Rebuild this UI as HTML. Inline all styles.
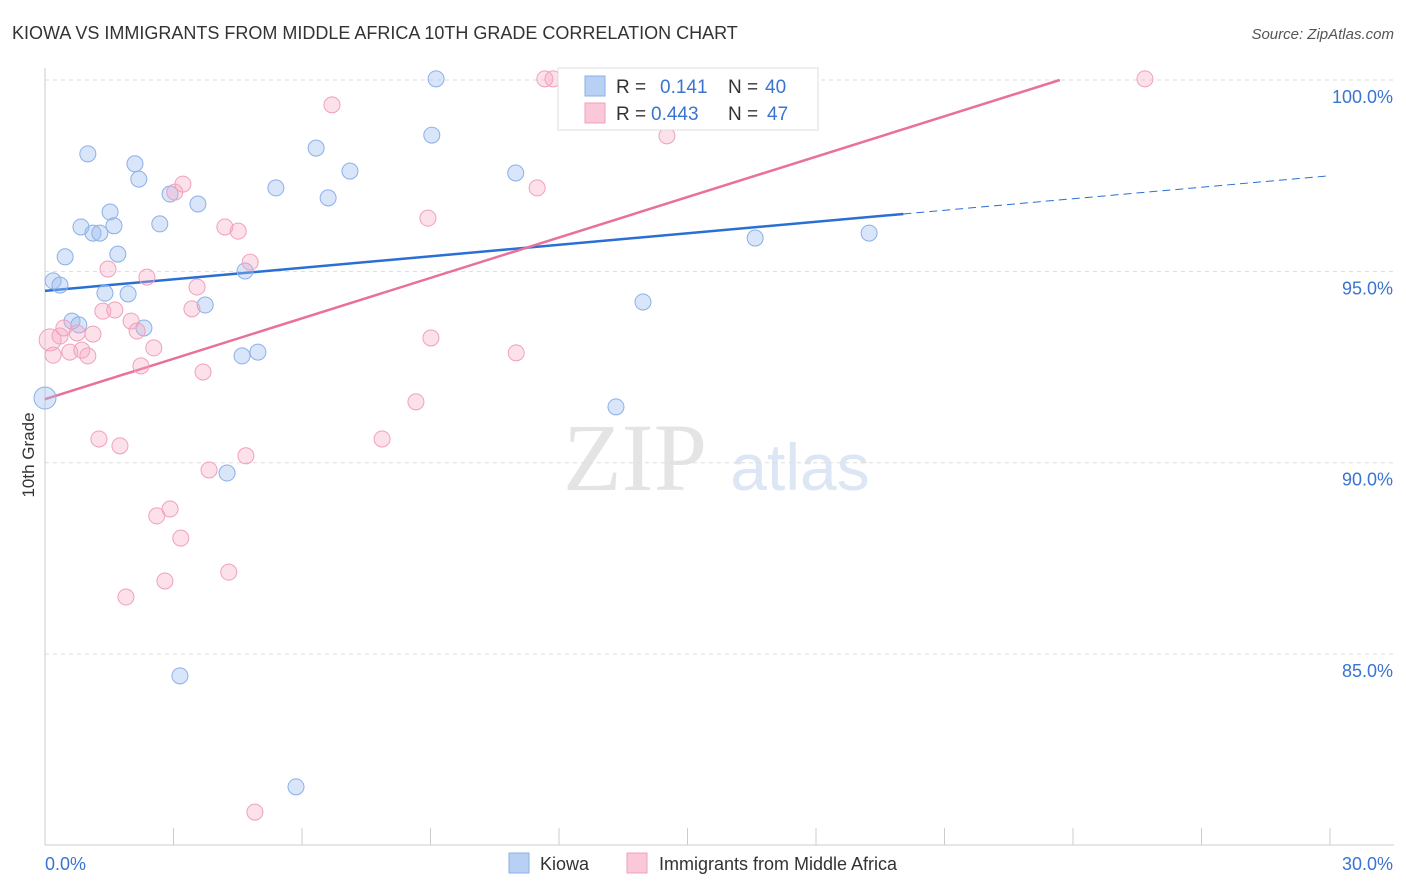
<!DOCTYPE html>
<html><head><meta charset="utf-8"><style>
body{margin:0;background:#fff;font-family:"Liberation Sans",sans-serif;}
svg{display:block}
</style></head><body>
<svg id="chart" width="1406" height="892" font-family="Liberation Sans, sans-serif">
<text x="12" y="39" font-size="18" fill="#333">KIOWA VS IMMIGRANTS FROM MIDDLE AFRICA 10TH GRADE CORRELATION CHART</text>
<text x="1394" y="39" font-size="15" fill="#555" font-style="italic" text-anchor="end">Source: ZipAtlas.com</text>
<text x="635" y="490" font-size="96" fill="#e4e4e4" font-family="Liberation Serif, serif" text-anchor="middle">ZIP</text>
<text x="800" y="490" font-size="66" fill="#dde6f5" text-anchor="middle">atlas</text>
<text transform="translate(34,455) rotate(-90)" font-size="17" fill="#333" text-anchor="middle">10th Grade</text>
<g id="grid"></g><g id="axes"></g><g id="lines"></g><g id="pts"></g>
<g>
<rect x="558" y="68" width="260" height="62" fill="#fff" stroke="#ddd"/>
<rect x="585" y="76" width="20" height="20" fill="#b8d0f4" stroke="#8ab0e8"/>
<rect x="585" y="103" width="20" height="20" fill="#fac8d8" stroke="#f0a0bc"/>
<text x="616" y="93" font-size="19" fill="#333">R = </text><text x="660" y="93" font-size="19" fill="#3a74d0">0.141</text>
<text x="728" y="93" font-size="19" fill="#333">N = </text><text x="765" y="93" font-size="19" fill="#3a74d0">40</text>
<text x="616" y="120" font-size="19" fill="#333">R = </text><text x="651" y="120" font-size="19" fill="#3a74d0">0.443</text>
<text x="728" y="120" font-size="19" fill="#333">N = </text><text x="767" y="120" font-size="19" fill="#3a74d0">47</text>
</g>
<g>
<rect x="509" y="853" width="20" height="20" fill="#b8d0f4" stroke="#8ab0e8"/>
<text x="540" y="870" font-size="18" fill="#333">Kiowa</text>
<rect x="627" y="853" width="20" height="20" fill="#fac8d8" stroke="#f0a0bc"/>
<text x="659" y="870" font-size="18" fill="#333">Immigrants from Middle Africa</text>
</g>
<text x="45" y="870" font-size="18" fill="#3a74d0">0.0%</text>
<text x="1393" y="870" font-size="18" fill="#3a74d0" text-anchor="end">30.0%</text>
</svg>
<script>
const yTicks=[100,95,90,85];
const yTickLabels=["100.0%","95.0%","90.0%","85.0%"];
const xTicks=[0,3,6,9,12,15,18,21,24,27,30];
const kiowaX=[0,0.19,0.35,0.47,1.00,0.84,1.12,1.28,1.52,1.61,1.70,1.40,1.94,0.63,0.79,2.10,2.19,2.92,2.68,3.57,2.31,3.74,4.67,4.60,4.97,4.25,3.15,5.86,5.39,6.33,6.61,7.12,9.03,9.13,10.99,13.96,13.33,16.20,16.58,19.24];
const kiowaY=[91.69,94.75,94.64,95.38,98.07,96.16,96.00,96.00,96.55,96.19,95.45,94.43,94.41,93.70,93.60,97.81,97.41,97.02,96.24,96.76,93.52,94.12,95.01,92.79,92.89,89.73,84.43,81.53,97.18,98.22,96.92,97.62,98.56,100.03,97.57,94.20,91.46,100.03,95.87,96.00];
const immX=[0.12,0.19,0.35,0.44,0.58,0.75,0.86,1.00,1.12,1.26,1.35,1.47,1.63,1.75,1.89,2.01,2.15,2.24,2.38,2.54,2.61,2.80,2.92,3.03,3.17,3.22,3.43,3.55,3.69,3.83,4.20,4.29,4.51,4.69,4.79,4.90,6.70,7.87,8.66,8.94,9.01,11.00,11.49,11.67,11.86,14.52,25.68];
const immY=[93.21,92.81,93.31,93.52,92.89,93.39,92.94,92.79,93.36,90.62,93.96,95.06,93.99,90.44,86.49,93.70,93.44,92.53,94.85,93.00,88.61,86.91,88.79,97.07,88.03,97.28,94.02,94.59,92.37,89.81,96.16,87.14,96.05,90.18,95.24,80.87,99.35,90.62,91.59,96.39,93.26,92.87,97.18,100.03,100.03,98.54,100.03];
const kiowaTrend=[94.49,0.1003];
const immTrend=[91.66,0.352];
const NS="http://www.w3.org/2000/svg";
const X=v=>45+v/30*1285, Y=v=>80+(100-v)*38.27;
function mk(t,a,p){const e=document.createElementNS(NS,t);for(const k in a)e.setAttribute(k,a[k]);document.getElementById(p).appendChild(e);return e;}
yTicks.forEach((t,i)=>{
 const l=mk('line',{x1:45,x2:1394,y1:Y(t),y2:Y(t),stroke:'#ddd','stroke-dasharray':'4,4'},'grid');
 
 
 const tx=mk('text',{x:1393,y:Y(t)+23,'font-size':18,fill:'#3a74d0','text-anchor':'end'},'grid');
 tx.textContent=yTickLabels[i];
 
 
});
const ax=mk('line',{x1:45,x2:45,y1:68,y2:845,stroke:'#ccc'},'axes');


const bx=mk('line',{x1:45,x2:1394,y1:845,y2:845,stroke:'#ccc'},'axes');


xTicks.forEach(t=>{
 const l=mk('line',{x1:X(t),x2:X(t),y1:828,y2:845,stroke:'#ccc'},'axes');
 
 
});
function pts(xs,ys,fill,stroke,name){
 xs.forEach((x,i)=>{
  const c=mk('circle',{cx:X(x),cy:Y(ys[i]),r:i==0?11:8,fill:fill,stroke:stroke,'stroke-width':1},'pts');
  
  
 });
}
pts(kiowaX,kiowaY,'rgba(160,190,240,0.4)','#8ab0e8','kiowa-point');
pts(immX,immY,'rgba(245,170,195,0.35)','#f0a0bc','immigrants-point');
const bl=mk('line',{x1:X(0),y1:Y(kiowaTrend[0]),x2:X(20.04),y2:Y(kiowaTrend[0]+kiowaTrend[1]*20.04),stroke:'#2a6fd4','stroke-width':2.5},'lines');


const bd=mk('line',{x1:X(20.04),y1:Y(kiowaTrend[0]+kiowaTrend[1]*20.04),x2:X(30),y2:Y(kiowaTrend[0]+kiowaTrend[1]*30),stroke:'#2a6fd4','stroke-width':1,'stroke-dasharray':'8,5'},'lines');


const xe=(100-immTrend[0])/immTrend[1];
const pl=mk('line',{x1:X(0),y1:Y(immTrend[0]),x2:X(xe),y2:Y(100),stroke:'#e8709a','stroke-width':2.5},'lines');


</script>
</body></html>
